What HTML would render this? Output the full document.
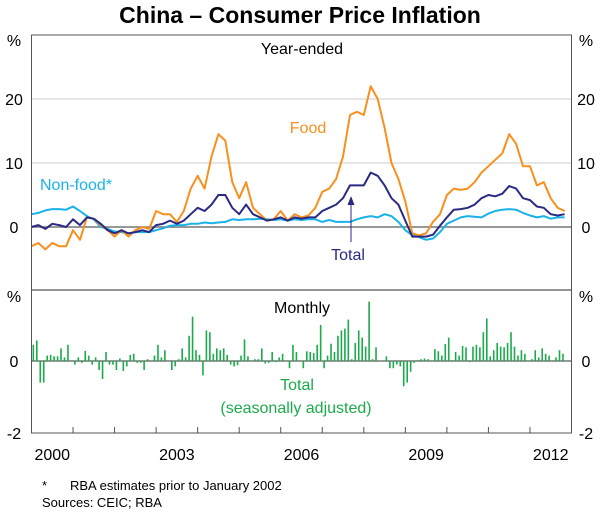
<!DOCTYPE html>
<html><head><meta charset="utf-8"><style>
body{margin:0;background:#fff}
svg{display:block;font-family:"Liberation Sans",Arial,sans-serif}
</style></head><body>
<svg id="chart" width="600" height="513" viewBox="0 0 600 513" xmlns="http://www.w3.org/2000/svg">
<text x="300" y="23" text-anchor="middle" font-size="23" font-weight="bold" fill="#000">China – Consumer Price Inflation</text>
<g id="grid"></g>
<g id="series"></g>
<g id="frame"></g>
<g id="labels" font-size="16" fill="#000"></g>
<text x="42" y="490" font-size="13">*</text>
<text x="70" y="490" font-size="13">RBA estimates prior to January 2002</text>
<text x="42" y="507" font-size="13">Sources: CEIC; RBA</text>
</svg>
<script>
// even-month samples from Jan 2000 (month index = 2*i)
const food=[-3,-2.5,-3.5,-2.5,-3,-3,-0.5,-2,1.5,1.3,0.3,-0.5,-1.5,-0.5,-1.5,-0.5,0,-0.3,2.5,2,2,0.8,2.5,6,8,6,11,14.5,13.5,7,4.5,7,3,2,1,1.2,2.5,1,2,1.5,1.8,3,5.5,6,7.5,11,17.5,18,17.5,22,20,15.5,10,7.5,4,-1,-1.3,-1,0.8,2,5,6,5.8,6,7,8.5,9.5,10.5,11.5,14.5,13,9.5,9.5,6.5,7,4.5,3,2.5];
const total=[0,0.3,-0.3,0.5,0.3,0,1.2,0.3,1.5,1.3,0.5,-0.5,-1,-0.5,-1,-0.8,-0.5,-0.8,0.3,0.5,1,0.5,1,2,3,2.5,3.5,5,5,3,2,3.5,2,1.5,1,1.2,1.5,1,1.5,1.3,1.5,1.5,2.5,3,3.5,4.5,6.5,6.5,6.5,8.5,8,6.5,4.5,3.5,1,-1.5,-1.5,-1.5,-1.2,0.2,1.5,2.7,2.8,3,3.5,4.5,5,4.8,5.2,6.4,6,4.5,4.2,3.2,3,2,1.8,2];
const nonFood=[2,2.2,2.6,2.8,2.8,2.7,3.2,2.5,1.7,1.2,0,-0.3,-0.7,-0.8,-1,-0.8,-0.8,-0.8,-0.5,-0.2,0.2,0.3,0.3,0.5,0.5,0.7,0.6,0.7,0.8,1.2,1.1,1.2,1.2,1.3,1.2,1.1,1.2,1,1.2,1.1,1.2,1.2,0.8,1.1,0.8,0.8,0.8,1.2,1.5,1.7,1.5,2,1.7,0.8,-0.5,-1.3,-1.6,-2,-1.8,-0.8,0.5,1,1.5,1.7,1.6,1.5,2.1,2.5,2.7,2.8,2.7,2.2,1.8,1.5,1.7,1.3,1.5,1.5];
// monthly change, one per month from Jan 2000
const monthly=[0.45,0.57,-0.6,-0.6,0.15,0.17,0.13,0.13,0.35,0.1,0.45,0,-0.1,0.1,-0.05,0.28,0.15,-0.1,0.1,-0.25,-0.5,0.25,-0.1,-0.1,-0.25,0.07,-0.28,-0.15,0.17,0.2,-0.05,-0.05,-0.25,0.05,0,0.15,0.45,0.1,0.3,0,-0.25,-0.15,0.05,0.35,0.1,0.7,1.23,0.3,0.17,-0.4,0.85,0.8,0.2,0.35,0.3,0.35,0.17,-0.1,-0.15,-0.12,0.15,0.6,0.13,0,0.05,0.05,0.35,-0.07,-0.05,0.25,-0.03,0.1,0.2,0,-0.2,0.45,0.25,0,-0.2,0.27,0.25,0.22,0.45,1.0,-0.2,0.15,0.48,0.25,0.7,0.85,0.9,1.15,0.05,0.5,0.85,0.65,0.4,1.65,0.05,0.38,0,0,0.13,-0.2,-0.2,-0.1,-0.15,-0.7,-0.6,-0.3,-0.05,0.02,0.05,0.07,0.05,0,0.33,0.27,0.15,0.47,0.65,0.02,0.25,0.15,0.42,0.38,-0.03,0.4,0.45,0.38,0.8,1.18,0.13,0.3,0.5,0.4,0.38,0.5,0.8,0.4,0.15,0.3,0.2,0,0.05,0.3,0.1,0.35,0.2,0.15,0,0.1,0.3,0.2];
const years=[2000,2003,2006,2009,2012];
const topTicks=[0,10,20];
const botTicks=[0,-2];

const NS="http://www.w3.org/2000/svg";
const L=31.5,R=571.5,TOP=35,MID=290,BOT=433;
const mx=m=>L+m*(R-L)/156;
const yTop=v=>227-v*6.4;
const yBot=v=>361-v*36;
function mk(tag,attrs,parent){const e=document.createElementNS(NS,tag);for(const k in attrs)e.setAttribute(k,attrs[k]);parent.appendChild(e);return e;}
const grid=document.getElementById('grid'),ser=document.getElementById('series'),frame=document.getElementById('frame'),lab=document.getElementById('labels');

topTicks.forEach(v=>{
  const g=mk('line',{x1:L,x2:R,y1:yTop(v),y2:yTop(v),stroke:v===0?'#777':'#ccc','stroke-width':v===0?1.5:1},grid);
  
  
  [[14,'middle'],[586,'middle']].forEach(([x,a])=>{
    const t=mk('text',{x:x,y:yTop(v)+6,'text-anchor':a},lab);t.textContent=String(v);
    
    
  });
});
botTicks.forEach(v=>{
  if(v===0){const g=mk('line',{x1:L,x2:R,y1:yBot(0),y2:yBot(0),stroke:'#777','stroke-width':1.5},grid);
    
    }
  [[14,'middle'],[586,'middle']].forEach(([x,a])=>{
    const t=mk('text',{x:x,y:yBot(v)+6,'text-anchor':a},lab);t.textContent=String(v);
    
    
  });
});
['%','%'].forEach((p,i)=>{[46,302].forEach(y=>{
  const t=mk('text',{x:i?586:14,y:y,'text-anchor':'middle'},lab);t.textContent=p;
  
  
});});

monthly.forEach((v,i)=>{
  const y0=yBot(0),y1=yBot(v);
  const b=mk('rect',{x:mx(i+0.3),width:1.6,y:Math.min(y0,y1),height:Math.abs(y1-y0),fill:'#1bab4b'},ser);
  
  
});
function line(arr,color,name){
  const d=arr.map((v,i)=>(i?'L':'M')+mx(i*2).toFixed(1)+' '+yTop(v).toFixed(1)).join(' ');
  const p=mk('path',{d:d,fill:'none',stroke:color,'stroke-width':2,'stroke-linejoin':'round'},ser);
  
  
}
line(nonFood,'#1ab2e8','non-food-line');
line(food,'#f7901e','food-line');
line(total,'#2b2a83','total-line');

const fr=mk('rect',{x:L,y:TOP,width:R-L,height:BOT-TOP,fill:'none',stroke:'#555','stroke-width':1},frame);


const dv=mk('line',{x1:L,x2:R,y1:MID,y2:MID,stroke:'#555','stroke-width':1.2},frame);


for(let y=1;y<=12;y++){
  const t=mk('line',{x1:mx(y*12),x2:mx(y*12),y1:BOT,y2:BOT-6,stroke:'#555'},frame);
  
  
}
years.forEach(yr=>{
  const t=mk('text',{x:mx((yr-2000)*12+6),y:460,'text-anchor':'middle'},lab);t.textContent=String(yr);
  
  
});
function txt(s,x,y,c,name,anchor){const t=mk('text',{x:x,y:y,fill:c,'text-anchor':anchor||'middle'},lab);t.textContent=s;
  
  }
txt('Year-ended',302,54,'#000','panel-title-year-ended');
txt('Food',308,133,'#f7901e','food-label');
txt('Non-food*',40,190,'#1ab2e8','non-food-label','start');
txt('Total',348,260,'#2b2a83','total-label');
txt('Monthly',302,313,'#000','panel-title-monthly');
txt('Total',297,390,'#1bab4b','monthly-total-label');
txt('(seasonally adjusted)',296,413,'#1bab4b','seasonally-adjusted-label');
const ar=mk('line',{x1:351,x2:351,y1:242,y2:202,stroke:'#2b2a83','stroke-width':1},ser);


const ah=mk('path',{d:'M347.5 205 L351 196 L354.5 205 Z',fill:'#2b2a83'},ser);


</script>
</body></html>
